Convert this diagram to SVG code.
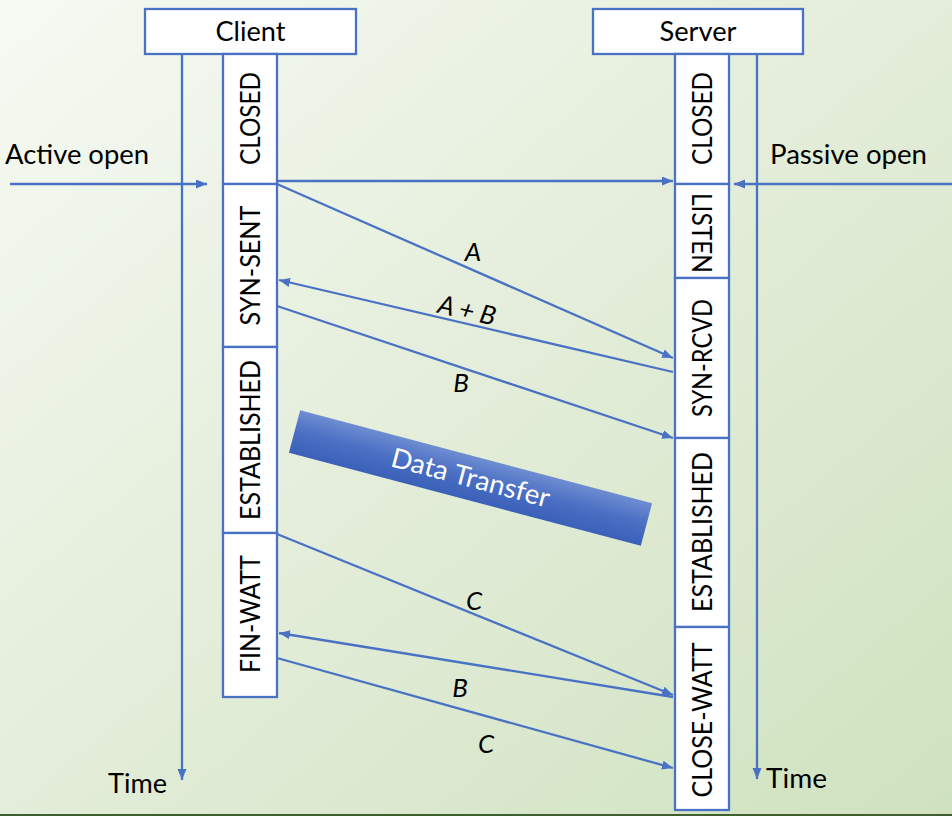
<svg xmlns="http://www.w3.org/2000/svg" width="952" height="816" viewBox="0 0 952 816">
<defs>
<linearGradient id="bg" x1="0" y1="0" x2="1" y2="1">
<stop offset="0" stop-color="#f6faf3"/>
<stop offset="0.5" stop-color="#e3edd9"/>
<stop offset="1" stop-color="#cfe2bf"/>
</linearGradient>
<linearGradient id="dt" x1="0" y1="0" x2="0" y2="1">
<stop offset="0" stop-color="#6e8dd2"/>
<stop offset="0.5" stop-color="#4a6fc3"/>
<stop offset="1" stop-color="#3a61b8"/>
</linearGradient>
<marker id="ah" markerUnits="userSpaceOnUse" markerWidth="12" markerHeight="10" refX="11" refY="4.5" orient="auto">
<path d="M0,0 L11,4.5 L0,9 z" fill="#4a72c4"/>
</marker>
<style>
.box{fill:#ffffff;stroke:#4a72c4;stroke-width:2.3}
.ln{stroke:#4a72c4;stroke-width:2.3;fill:none;marker-end:url(#ah)}
.t{font-family:Lato,"Open Sans","Liberation Sans",sans-serif;font-size:27px;fill:#000}
.st{font-family:Lato,"Open Sans","Liberation Sans",sans-serif;font-size:27px;fill:#000;text-anchor:middle}
.lb{font-family:Lato,"Open Sans","Liberation Sans",sans-serif;font-size:26px;font-style:italic;fill:#000;text-anchor:middle}
</style>
</defs>
<rect x="0" y="0" width="952" height="816" fill="url(#bg)"/>
<rect x="0" y="814" width="952" height="2" fill="#3f5f30"/>

<g id="connectors">
<path class="ln" d="M10,184 L207,184"/>
<path class="ln" d="M952,184 L734,184"/>
<path class="ln" d="M182,54 L182,780"/>
<path class="ln" d="M757,54 L757,779"/>
<path class="ln" d="M277,181 L673,181"/>
<path class="ln" d="M277,184 L673,358"/>
<path class="ln" d="M673,372 L279,280"/>
<path class="ln" d="M277,306 L673,438"/>
<path class="ln" d="M277,534 L673,695"/>
<path class="ln" d="M673,697 L279,633"/>
<path class="ln" d="M277,658 L673,768"/>
<text class="lb" x="473" y="261">A</text>
<text class="lb" transform="translate(465,319) rotate(13)">A + B</text>
<text class="lb" x="461" y="392">B</text>
<text class="lb" x="474" y="610">C</text>
<text class="lb" x="460" y="697">B</text>
<text class="lb" x="486" y="753">C</text>
</g>

<g id="client">
<rect class="box" x="145" y="9" width="211" height="45"/>
<text class="st" x="250.5" y="41" textLength="70" lengthAdjust="spacingAndGlyphs">Client</text>
</g>
<g id="server">
<rect class="box" x="593" y="9" width="210" height="45"/>
<text class="st" x="698" y="41" textLength="77" lengthAdjust="spacingAndGlyphs">Server</text>
</g>

<g id="client-closed">
<rect class="box" x="223" y="54" width="54" height="130"/>
<text class="st" transform="translate(260,118.5) rotate(-90)" textLength="93" lengthAdjust="spacingAndGlyphs">CLOSED</text>
</g>
<g id="client-syn-sent">
<rect class="box" x="223" y="184" width="54" height="163"/>
<text class="st" transform="translate(260,265.5) rotate(-90)" textLength="120" lengthAdjust="spacingAndGlyphs">SYN-SENT</text>
</g>
<g id="client-established">
<rect class="box" x="223" y="347" width="54" height="186"/>
<text class="st" transform="translate(260,440) rotate(-90)" textLength="160" lengthAdjust="spacingAndGlyphs">ESTABLISHED</text>
</g>
<g id="client-fin-watt">
<rect class="box" x="223" y="533" width="54" height="164"/>
<text class="st" transform="translate(260,614) rotate(-90)" textLength="118" lengthAdjust="spacingAndGlyphs">FIN-WATT</text>
</g>

<g id="server-closed">
<rect class="box" x="675" y="54" width="54" height="130"/>
<text class="st" transform="translate(712,118.5) rotate(-90)" textLength="93" lengthAdjust="spacingAndGlyphs">CLOSED</text>
</g>
<g id="server-listen">
<rect class="box" x="675" y="184" width="54" height="94"/>
<text class="st" transform="translate(692,233) rotate(90)" textLength="80" lengthAdjust="spacingAndGlyphs">LISTEN</text>
</g>
<g id="server-syn-rcvd">
<rect class="box" x="675" y="278" width="54" height="160"/>
<text class="st" transform="translate(712,358) rotate(-90)" textLength="118" lengthAdjust="spacingAndGlyphs">SYN-RCVD</text>
</g>
<g id="server-established">
<rect class="box" x="675" y="438" width="54" height="189"/>
<text class="st" transform="translate(712,532) rotate(-90)" textLength="160" lengthAdjust="spacingAndGlyphs">ESTABLISHED</text>
</g>
<g id="server-close-watt">
<rect class="box" x="675" y="627" width="54" height="183"/>
<text class="st" transform="translate(712,720) rotate(-90)" textLength="155" lengthAdjust="spacingAndGlyphs">CLOSE-WATT</text>
</g>

<g id="active-open">
<text class="t" x="5" y="164" textLength="144" lengthAdjust="spacingAndGlyphs">Active open</text>
</g>
<g id="passive-open">
<text class="t" x="770" y="164" textLength="157" lengthAdjust="spacingAndGlyphs">Passive open</text>
</g>
<g id="time-client">
<text class="t" x="108" y="793" textLength="59" lengthAdjust="spacingAndGlyphs">Time</text>
</g>
<g id="time-server">
<text class="t" x="766" y="788" textLength="61" lengthAdjust="spacingAndGlyphs">Time</text>
</g>

<g id="data-transfer" transform="translate(470.5,478) rotate(14.8)">
<rect x="-182" y="-22" width="364" height="44" fill="url(#dt)"/>
<text x="0" y="9" text-anchor="middle" font-family="Lato,'Open Sans','Liberation Sans',sans-serif" font-size="27" fill="#ffffff" textLength="163" lengthAdjust="spacingAndGlyphs">Data Transfer</text>
</g>
</svg>
